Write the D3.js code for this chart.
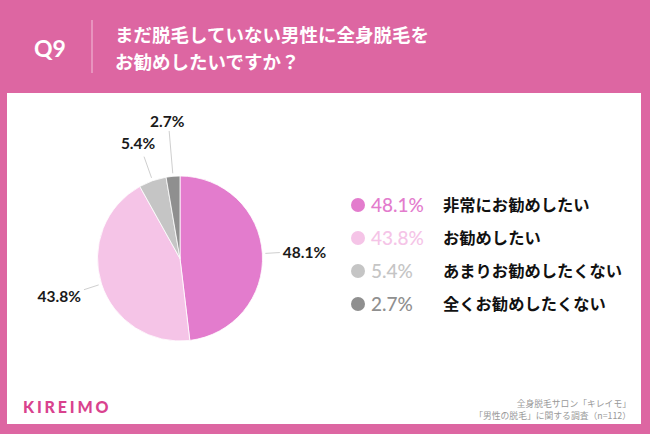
<!DOCTYPE html>
<html>
<head>
<meta charset="utf-8">
<script src="https://cdn.jsdelivr.net/npm/d3@7"></script>
<style>
  html, body { margin: 0; padding: 0; background: #dd66a2; }
  svg { display: block; }
  .jp { font-family: "Noto Sans CJK JP", "Noto Sans", sans-serif; }
  .num { font-family: Lato, "Noto Sans", sans-serif; }
</style>
</head>
<body>
<div id="wrapper"></div>
<script>
// chart data
var categories = ["非常にお勧めしたい", "お勧めしたい", "あまりお勧めしたくない", "全くお勧めしたくない"];
var values = [48.1, 43.8, 5.4, 2.7];
var colors = ["#e37ccd", "#f5c4e7", "#c5c5c5", "#8f8f8f"];
var titleLines = ["まだ脱毛していない男性に全身脱毛を", "お勧めしたいですか？"];
var sourceLines = ["全身脱毛サロン「キレイモ」", "「男性の脱毛」に関する調査（n=112）"];

// label leader settings: line end radius, text offset from line end
var leaderLen = [100, 101, 108, 128];
var labelOffset = [[3, 0, "start"], [-3, 7, "end"], [-6, -13, "middle"], [-2, -9, "middle"]];

var width = 650, height = 434;
var cx = 180, cy = 258.5, radius = 82.5;

var svg = d3.select("#wrapper").append("svg")
  .attr("width", width)
  .attr("height", height);

// background + white panel
svg.append("rect").attr("width", width).attr("height", height).attr("fill", "#dd66a2");
svg.append("rect")
  .attr("x", 7).attr("y", 93)
  .attr("width", 634).attr("height", 331)
  .attr("fill", "#ffffff");

// header
svg.append("text")
  .attr("class", "num")
  .attr("x", 50).attr("y", 49)
  .attr("dy", "0.36em")
  .attr("text-anchor", "middle")
  .attr("fill", "#fff")
  .style("font-size", "23px")
  .style("font-weight", 700)
  .text("Q9");

svg.append("line")
  .attr("x1", 92).attr("x2", 92)
  .attr("y1", 20).attr("y2", 73)
  .attr("stroke", "#f3c0da")
  .attr("stroke-width", 1);

svg.selectAll(".title")
  .data(titleLines)
  .enter().append("text")
  .attr("class", "title jp")
  .attr("x", 115)
  .attr("y", function(d, i) { return 35 + i * 27; })
  .attr("dy", "0.36em")
  .attr("fill", "#fff")
  .style("font-size", "18.5px")
  .style("font-weight", 700)
  .text(function(d) { return d; });

// pie
var pie = d3.pie().sort(null).value(function(d) { return d; });
var arcs = pie(values);
var arc = d3.arc().innerRadius(0).outerRadius(radius);

var g = svg.append("g").attr("transform", "translate(" + cx + "," + cy + ")");

g.selectAll(".slice")
  .data(arcs)
  .enter().append("path")
  .attr("class", "slice")
  .attr("d", arc)
  .attr("fill", function(d, i) { return colors[i]; })
  .attr("stroke", "#fff")
  .attr("stroke-width", 0.8);

function pointAt(a, r) {
  return [Math.sin(a) * r, -Math.cos(a) * r];
}

// leader lines and labels
arcs.forEach(function(d, i) {
  var mid = (d.startAngle + d.endAngle) / 2;
  var p0 = pointAt(mid, radius + 3);
  var p1 = pointAt(mid, leaderLen[i]);
  g.append("line")
    .attr("x1", p0[0]).attr("y1", p0[1])
    .attr("x2", p1[0]).attr("y2", p1[1])
    .attr("stroke", "#cfcfcf")
    .attr("stroke-width", 1);
  g.append("text")
    .attr("class", "num")
    .attr("x", p1[0] + labelOffset[i][0])
    .attr("y", p1[1] + labelOffset[i][1])
    .attr("dy", "0.35em")
    .attr("text-anchor", labelOffset[i][2])
    .attr("fill", "#1a1a1a")
    .style("font-size", "15.5px")
    .style("font-weight", 700)
    .text(d3.format(".1f")(values[i]) + "%");
});

// legend
var legendY = d3.scalePoint()
  .domain(categories)
  .range([205, 304]);

var legend = svg.selectAll(".legend")
  .data(categories)
  .enter().append("g")
  .attr("class", "legend")
  .attr("transform", function(d) { return "translate(0," + legendY(d) + ")"; });

legend.append("circle")
  .attr("cx", 358).attr("cy", 0)
  .attr("r", 7)
  .attr("fill", function(d, i) { return colors[i]; });

legend.append("text")
  .attr("class", "num")
  .attr("x", 371).attr("y", 0)
  .attr("dy", "0.36em")
  .attr("fill", function(d, i) { return colors[i]; })
  .style("font-size", "19px")
  .style("font-weight", 500)
  .text(function(d, i) { return d3.format(".1f")(values[i]) + "%"; });

legend.append("text")
  .attr("class", "jp")
  .attr("x", 443).attr("y", 0)
  .attr("dy", "0.36em")
  .attr("fill", "#111")
  .style("font-size", "16.3px")
  .style("font-weight", 700)
  .text(function(d) { return d; });

// footer
svg.append("text")
  .attr("class", "num")
  .attr("x", 23).attr("y", 407)
  .attr("dy", "0.36em")
  .attr("fill", "#d9428e")
  .style("font-size", "16px")
  .style("font-weight", 900)
  .style("letter-spacing", "2.8px")
  .text("KIREIMO");

svg.selectAll(".source")
  .data(sourceLines)
  .enter().append("text")
  .attr("class", "source jp")
  .attr("x", 631)
  .attr("y", function(d, i) { return 404 + i * 12; })
  .attr("dy", "0.35em")
  .attr("text-anchor", "end")
  .attr("fill", "#999")
  .style("font-size", "8.8px")
  .text(function(d) { return d; });
</script>
</body>
</html>
